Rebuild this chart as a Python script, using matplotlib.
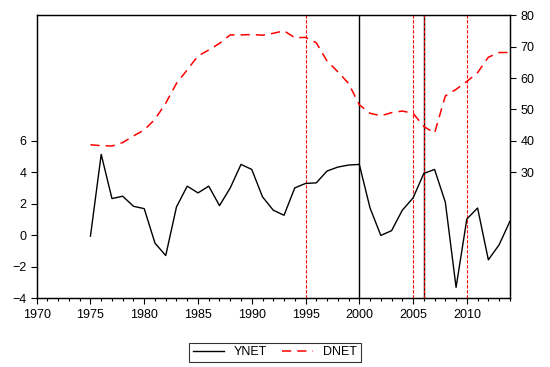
import matplotlib.pyplot as plt
from matplotlib.ticker import MultipleLocator

years = list(range(1975, 2015))
ynet = [-0.05, 5.15, 2.34, 2.49, 1.85, 1.70, -0.49, -1.28, 1.81, 3.13,
        2.70, 3.13, 1.89, 3.02, 4.51, 4.19, 2.45, 1.60, 1.28, 3.02,
        3.30, 3.34, 4.09, 4.34, 4.47, 4.51, 1.74, 0.00, 0.30, 1.60,
        2.38, 3.94, 4.19, 2.11, -3.30, 1.04, 1.74, -1.55, -0.60, 0.89]
dnet = [38.8, 38.5, 38.4, 39.5, 41.6, 43.5, 46.9, 52.0, 58.3, 62.6,
        67.0, 68.9, 71.0, 73.7, 73.7, 73.8, 73.6, 74.2, 75.0, 72.8,
        72.9, 71.2, 65.4, 62.0, 58.3, 51.5, 48.8, 48.0, 49.0, 49.5,
        48.8, 44.6, 42.5, 54.3, 56.4, 58.9, 61.7, 66.6, 68.1, 68.1]
red_breaks = [1995, 2005, 2006, 2010]
black_breaks = [2000, 2006]

plt.rcParams['font.family'] = ['Liberation Sans', 'DejaVu Sans']
fig = plt.figure(figsize=(5.5, 3.67), dpi=100)
ax = fig.add_axes([0.0667, 0.187, 0.8603, 0.772])
ax2 = ax.twinx()

for yr in black_breaks:
    ax.axvline(yr, color='black', lw=1.0, zorder=1)
for yr in red_breaks:
    ax.axvline(yr, color='red', lw=0.8, ls=(0, (3, 1.5)), zorder=1)

l1, = ax.plot(years, ynet, color='black', lw=1.0, label='YNET', zorder=3)
l2, = ax2.plot(years, dnet, color='red', lw=1.1, ls=(0, (6, 4)), label='DNET', zorder=3)

ax.set_xlim(1970, 2014)
ax.set_ylim(-4, 14)
ax2.set_ylim(-10, 80)
ax.set_yticks([-4, -2, 0, 2, 4, 6])
ax2.set_yticks([30, 40, 50, 60, 70, 80])
ax.xaxis.set_major_locator(MultipleLocator(5))
ax.xaxis.set_minor_locator(MultipleLocator(1))

ax.tick_params(axis='both', which='major', direction='out', length=4, labelsize=9, width=0.8)
ax.tick_params(axis='x', which='minor', direction='out', length=2.5, width=0.8)
ax2.tick_params(axis='y', direction='out', length=4, labelsize=9, width=0.8)

for a in (ax, ax2):
    for s in a.spines.values():
        s.set_linewidth(0.9)

fig.legend([l1, l2], ['YNET', 'DNET'], loc='center', bbox_to_anchor=(0.5, 0.04),
           ncol=2, fontsize=9, frameon=True, fancybox=False, edgecolor='black',
           handlelength=2.5, columnspacing=1.2, borderpad=0.3)
ax.get_figure().legends[0].get_frame().set_linewidth(0.8)

fig.savefig('out.png', dpi=100)
